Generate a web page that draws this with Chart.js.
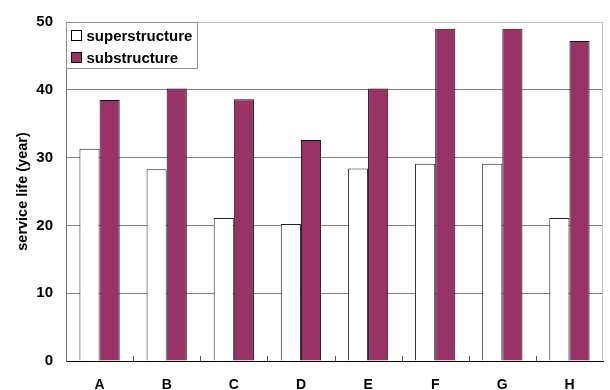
<!DOCTYPE html>
<html>
<head>
<meta charset="utf-8">
<script src="https://cdn.jsdelivr.net/npm/chart.js@4/dist/chart.umd.min.js"></script>
<style>
  html, body { margin: 0; padding: 0; background: #fff; }
  #wrap { width: 610px; height: 390px; position: relative; }
</style>
</head>
<body>
<div id="wrap"><canvas id="c" width="610" height="390"></canvas></div>
<script>
// Service life by structure type
const categories = ['A', 'B', 'C', 'D', 'E', 'F', 'G', 'H'];
const superstructure = [31.3, 28.3, 21.1, 20.2, 28.4, 29.1, 29.1, 21.1];
const substructure = [38.5, 40.2, 38.6, 32.6, 40.2, 49.0, 49.0, 47.2];
const yTicks = [0, 10, 20, 30, 40, 50];

const FONT = '"Liberation Sans", Arial, sans-serif';

// Frame: light top/right edges, inward category tick marks, boxed legend
const framePlugin = {
  id: 'frame',
  beforeDatasetsDraw(chart) {
    const { ctx, chartArea: a } = chart;
    ctx.save();
    ctx.strokeStyle = '#c0c0c0';
    ctx.lineWidth = 1;
    ctx.beginPath();
    ctx.moveTo(a.left, a.top + 0.5);
    ctx.lineTo(a.right - 0.5, a.top + 0.5);
    ctx.lineTo(a.right - 0.5, a.bottom);
    ctx.stroke();
    ctx.restore();
  },
  afterDraw(chart) {
    const { ctx, chartArea: a, scales } = chart;
    const x = scales.x;
    ctx.save();
    // inward tick marks between categories
    ctx.strokeStyle = '#555';
    ctx.lineWidth = 1;
    for (let i = 1; i < categories.length; i++) {
      const px = Math.round((x.getPixelForValue(i - 1) + x.getPixelForValue(i)) / 2) + 0.5;
      ctx.beginPath();
      ctx.moveTo(px, a.bottom);
      ctx.lineTo(px, a.bottom - 5);
      ctx.stroke();
    }
    // legend
    const lx = Math.round(a.left) + 0.5, ly = Math.round(a.top) + 0.5;
    ctx.fillStyle = '#fff';
    ctx.fillRect(lx, ly, 131, 46);
    ctx.strokeStyle = '#909090';
    ctx.strokeRect(lx, ly, 131, 46);
    ctx.font = 'bold 15px ' + FONT;
    ctx.textBaseline = 'middle';
    const rows = [13.5, 35.5];
    chart.data.datasets.forEach((ds, i) => {
      const cy = ly + rows[i];
      ctx.fillStyle = ds.backgroundColor;
      ctx.fillRect(lx + 5, cy - 5.5, 10, 10);
      ctx.strokeStyle = '#000';
      ctx.strokeRect(lx + 5, cy - 5.5, 10, 10);
      ctx.fillStyle = '#000';
      ctx.fillText(ds.label, lx + 20, cy + 0.5);
    });
    ctx.restore();
  }
};

new Chart(document.getElementById('c'), {
  type: 'bar',
  data: {
    labels: categories,
    datasets: [
      {
        label: 'superstructure',
        data: superstructure,
        backgroundColor: '#ffffff',
        borderColor: '#222',
        borderWidth: 1
      },
      {
        label: 'substructure',
        data: substructure,
        backgroundColor: '#993366',
        borderColor: '#111',
        borderWidth: 1
      }
    ]
  },
  options: {
    responsive: false,
    animation: false,
    devicePixelRatio: 1,
    layout: { padding: { top: 19, right: 7, left: 0, bottom: 0 } },
    datasets: { bar: { categoryPercentage: 0.6, barPercentage: 1.0 } },
    plugins: { legend: { display: false }, tooltip: { enabled: false } },
    scales: {
      x: {
        grid: { display: false, drawTicks: false },
        border: { display: true, color: '#000', width: 1 },
        ticks: { color: '#000', font: { family: FONT, size: 14, weight: 'bold' }, padding: 16 },
        afterFit(s) { s.height = 29; }
      },
      y: {
        min: 0,
        max: 50,
        afterBuildTicks(s) { s.ticks = yTicks.map(v => ({ value: v })); },
        grid: {
          drawTicks: false,
          color: ctx => (ctx.tick && (ctx.tick.value === 50 || ctx.tick.value === 0)) ? 'rgba(0,0,0,0)' : '#808080',
          lineWidth: 1
        },
        border: { display: true, color: '#707070', width: 1 },
        ticks: { color: '#000', font: { family: FONT, size: 15, weight: 'bold' }, padding: 13 },
        title: {
          display: true,
          text: 'service life (year)',
          color: '#000',
          font: { family: FONT, size: 14.5, weight: 'bold' },
          padding: { top: 14, bottom: 0 }
        },
        afterFit(s) { s.width = 66; }
      }
    }
  },
  plugins: [framePlugin]
});
</script>
</body>
</html>
